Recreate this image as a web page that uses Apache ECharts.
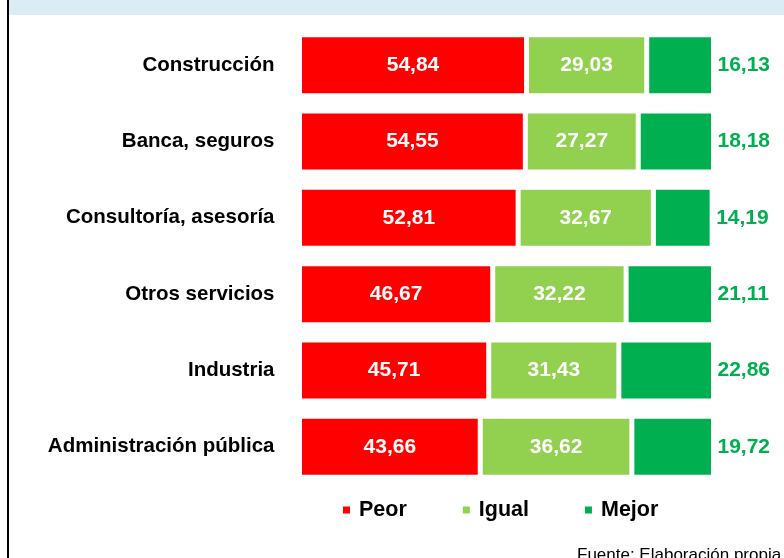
<!DOCTYPE html>
<html>
<head>
<meta charset="utf-8">
<script src="https://cdn.jsdelivr.net/npm/echarts@6/dist/echarts.min.js"></script>
<style>
  html, body { margin: 0; padding: 0; background: #fff; }
  #chart { width: 784px; height: 558px; }
</style>
</head>
<body>
<div id="chart"></div>
<script>
// sectores, de arriba a abajo
var categories = [
  "Construcción",
  "Banca, seguros",
  "Consultoría, asesoría",
  "Otros servicios",
  "Industria",
  "Administración pública",
];
var peor = [54.84, 54.55, 52.81, 46.67, 45.71, 43.66];
var igual = [29.03, 27.27, 32.67, 32.22, 31.43, 36.62];
var mejor = [16.13, 18.18, 14.19, 21.11, 22.86, 19.72];
var seriesNames = ["Peor", "Igual", "Mejor"];
var colors = ["#ff0000", "#92d050", "#00b050"];

var fontFam = "Liberation Sans, Arial, sans-serif";
var myChart = echarts.init(document.getElementById("chart"));

var fmt = function (p) {
  return p.value.toFixed(2).replace(".", ",");
};

var option = {
  animation: false,
  color: colors,
  textStyle: { fontFamily: fontFam },
  graphic: [
    // franja azul de arriba
    {
      type: "rect",
      shape: { x: 9, y: 0, width: 775, height: 15 },
      style: { fill: "#daedf4" },
    },
    // borde izquierdo
    {
      type: "rect",
      shape: { x: 7, y: 0, width: 2, height: 558 },
      style: { fill: "#000" },
    },
    {
      type: "text",
      left: 577,
      top: 547,
      style: {
        text: "Fuente: Elaboración propia",
        font: "17px " + fontFam,
        fill: "#000",
      },
    },
  ],
  legend: {
    data: seriesNames,
    left: 341,
    top: 499,
    padding: 0,
    icon: "rect",
    itemWidth: 9,
    itemHeight: 9,
    itemGap: 54,
    textStyle: {
      fontSize: 21.5,
      fontWeight: "bold",
      color: "#000",
      padding: [0, 0, 0, 3],
    },
  },
  grid: {
    left: 299.5,
    right: 70.5,
    top: 27,
    bottom: 73,
    containLabel: false,
  },
  xAxis: {
    type: "value",
    min: 0,
    max: 100,
    show: false,
  },
  yAxis: {
    type: "category",
    data: categories,
    inverse: true,
    axisLine: { show: false },
    axisTick: { show: false },
    splitLine: { show: false },
    axisLabel: {
      margin: 25,
      fontSize: 20.5,
      fontWeight: "bold",
      color: "#000",
    },
  },
  series: [
    {
      name: "Peor",
      type: "bar",
      stack: "total",
      data: peor,
      barWidth: 61,
      itemStyle: { borderColor: "#fff", borderWidth: 2.5 },
      label: {
        show: true,
        position: "inside",
        color: "#fff",
        fontSize: 21,
        fontWeight: "bold",
        formatter: fmt,
      },
    },
    {
      name: "Igual",
      type: "bar",
      stack: "total",
      data: igual,
      barWidth: 61,
      itemStyle: { borderColor: "#fff", borderWidth: 2.5 },
      label: {
        show: true,
        position: "inside",
        color: "#fff",
        fontSize: 21,
        fontWeight: "bold",
        formatter: fmt,
      },
    },
    {
      name: "Mejor",
      type: "bar",
      stack: "total",
      data: mejor,
      barWidth: 61,
      itemStyle: { borderColor: "#fff", borderWidth: 2.5 },
      label: {
        show: true,
        position: "right",
        distance: 4,
        color: "#00b050",
        fontSize: 21,
        fontWeight: "bold",
        formatter: fmt,
      },
    },
  ],
};
option && myChart.setOption(option);
</script>
</body>
</html>
